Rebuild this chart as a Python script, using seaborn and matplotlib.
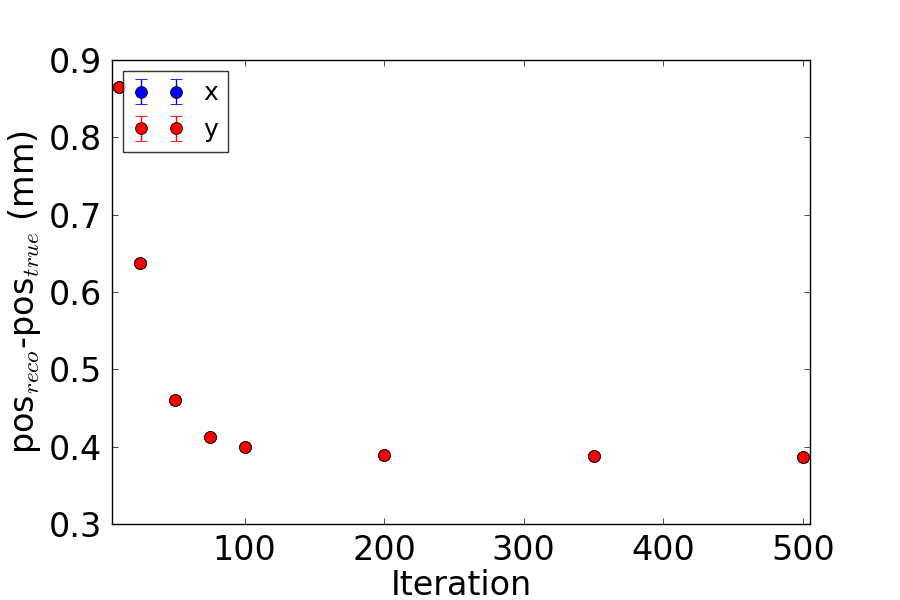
import matplotlib
matplotlib.use("Agg")
import matplotlib.pyplot as plt
import seaborn as sns
import numpy as np

iterations = [10, 25, 50, 75, 100, 200, 350, 500]
res_x = [0.865, 0.638, 0.460, 0.413, 0.400, 0.389, 0.388, 0.387]
res_y = [0.865, 0.638, 0.460, 0.413, 0.400, 0.389, 0.388, 0.387]
err_x = [0.004, 0.003, 0.002, 0.002, 0.002, 0.002, 0.002, 0.002]
err_y = [0.004, 0.003, 0.002, 0.002, 0.002, 0.002, 0.002, 0.002]
yticks = [0.3, 0.4, 0.5, 0.6, 0.7, 0.8, 0.9]
xticks = [100, 200, 300, 400, 500]

sns.set_style("ticks")
plt.rcParams.update({
    "font.family": ["DejaVu Sans"],
    "mathtext.fontset": "cm",
    "mathtext.default": "it",
    "font.size": 24,
    "text.color": "black",
    "axes.labelcolor": "black",
    "xtick.color": "black",
    "ytick.color": "black",
    "xtick.direction": "in",
    "ytick.direction": "in",
    "xtick.top": True,
    "ytick.right": True,
    "xtick.major.size": 4,
    "ytick.major.size": 4,
    "xtick.major.width": 0.5,
    "ytick.major.width": 0.5,
    "axes.linewidth": 1.0,
    "axes.edgecolor": "black",
})

fig = plt.figure(figsize=(9, 6), dpi=100)
ax = fig.add_axes([0.1244, 0.1267, 0.7756, 0.7733])

ax.errorbar(iterations, res_x, yerr=err_x, fmt="o", color="blue", ecolor="blue",
            mec="black", mew=0.6, ms=8.5, capsize=4, capthick=1, elinewidth=1, label="x")
ax.errorbar(iterations, res_y, yerr=err_y, fmt="o", color="red", ecolor="red",
            mec="black", mew=0.6, ms=8.5, capsize=4, capthick=1, elinewidth=1, label="y")

ax.set_xlim(5, 505)
ax.set_ylim(0.3, 0.9)
ax.set_xticks(xticks)
ax.set_yticks(yticks)
ax.set_xticklabels([str(t) for t in xticks])
ax.set_yticklabels([f"{t:.1f}" for t in yticks])
ax.tick_params(axis="both", labelsize=24, pad=7, colors="black")
for s in ax.spines.values():
    s.set_visible(True)
    s.set_color("black")

ax.set_xlabel("Iteration", fontsize=24, color="black", labelpad=2)
ax.set_ylabel(r"pos$_{reco}$-pos$_{true}$ (mm)", fontsize=24, color="black")

leg = ax.legend(loc="upper left", numpoints=2, fontsize=18, frameon=True,
                fancybox=False, borderaxespad=0.45, handlelength=2.0)
leg.get_frame().set_edgecolor("black")
leg.get_frame().set_linewidth(1.0)

fig.savefig("out.png", dpi=100)
